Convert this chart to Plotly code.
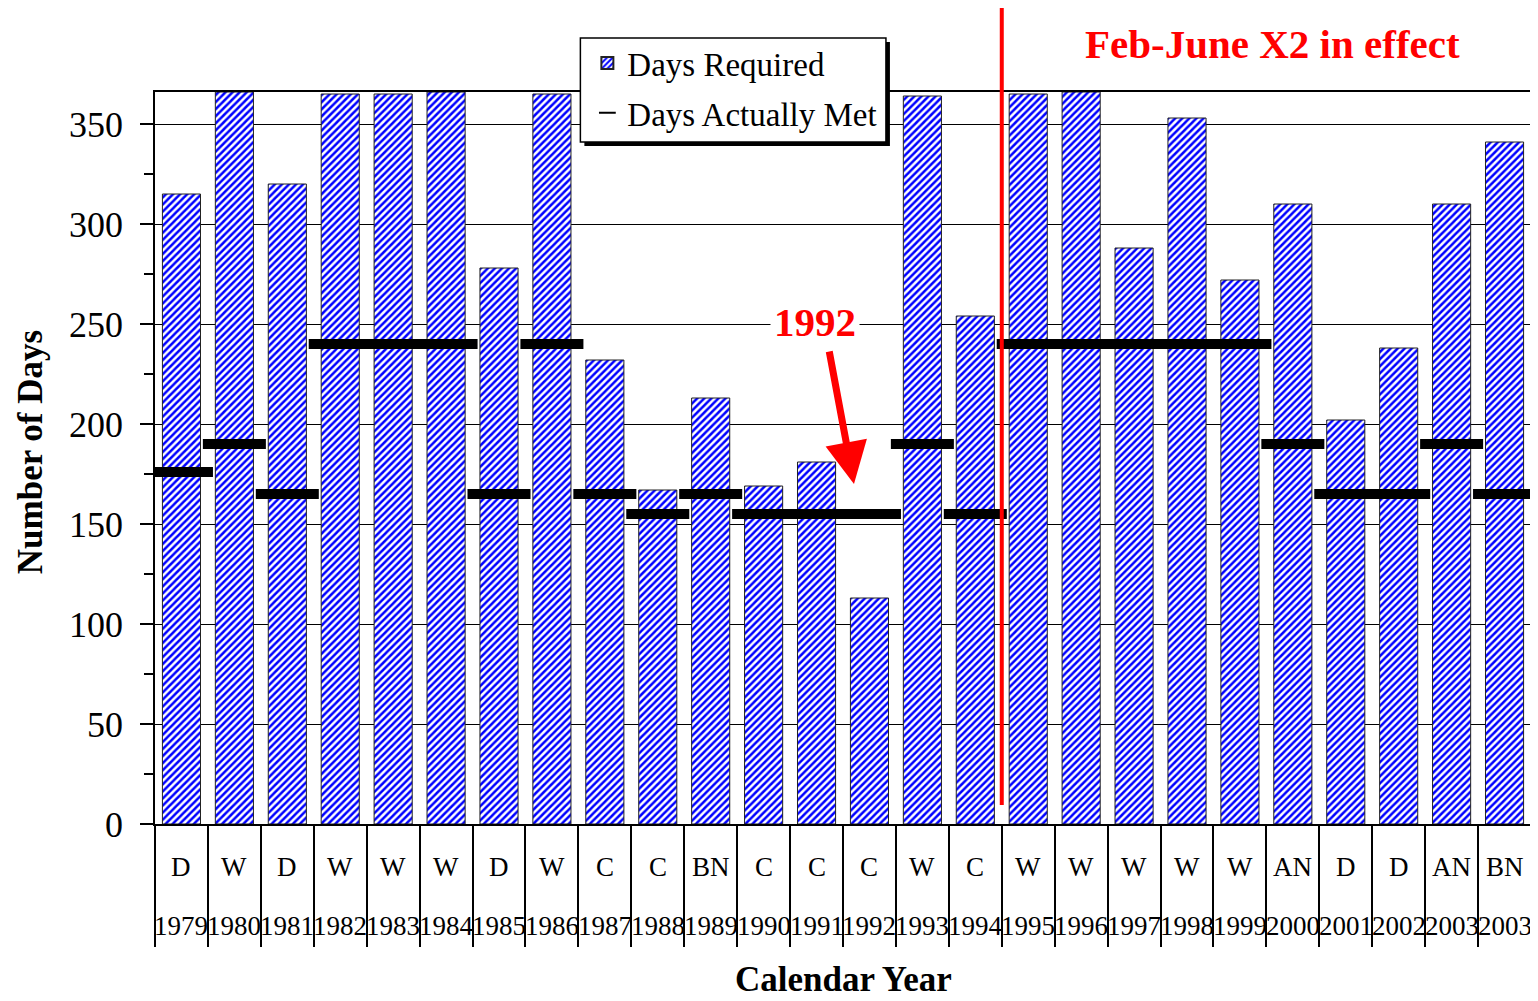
import plotly.graph_objects as go

years = ["1979", "1980", "1981", "1982", "1983", "1984", "1985", "1986", "1987", "1988",
         "1989", "1990", "1991", "1992", "1993", "1994", "1995", "1996", "1997", "1998",
         "1999", "2000", "2001", "2002", "2003", "2003"]
year_types = ["D", "W", "D", "W", "W", "W", "D", "W", "C", "C", "BN", "C", "C", "C", "W", "C",
              "W", "W", "W", "W", "W", "AN", "D", "D", "AN", "BN"]
days_required = [315, 366, 320, 365, 365, 366, 278, 365, 232, 167, 213, 169, 181, 113, 364, 254,
                 365, 366, 288, 353, 272, 310, 202, 238, 310, 341]
days_met = [176, 190, 165, 240, 240, 240, 165, 240, 165, 155, 165, 155, 155, 155, 190, 155,
            240, 240, 240, 240, 240, 190, 165, 165, 190, 165]
y_ticks = [0, 50, 100, 150, 200, 250, 300, 350]

FONT = "Liberation Serif"
idx = list(range(len(years)))
boundaries = [i - 0.5 for i in range(len(years) + 1)]

# reference-page pixel helpers (plot area: x 155..1533, y 92..824)
PW, PH, X0, Y0 = 1378, 732, 155, 824
def px(x): return (x - X0) / PW
def py(y): return (Y0 - y) / PH

fig = go.Figure()
fig.add_trace(go.Bar(
    x=idx, y=days_required, name="Days Required", width=0.72, legendgroup="a",
    marker=dict(color="white", line=dict(color="#222", width=1),
                pattern=dict(shape="/", fgcolor="#0000ff", bgcolor="white", size=5,
                             solidity=0.5, fgopacity=1)),
))
fig.add_trace(go.Scatter(
    x=idx, y=days_met, name="Days Actually Met", mode="markers", legendgroup="b",
    marker=dict(symbol="line-ew", size=45, color="black", line=dict(color="black", width=10)),
))

annotations = []
for i, (t, yr) in enumerate(zip(year_types, years)):
    annotations.append(dict(x=i, y=py(867), xref="x", yref="paper", text=t, showarrow=False,
                            font=dict(family=FONT, size=27, color="black"), yanchor="middle"))
    annotations.append(dict(x=i, y=py(926), xref="x", yref="paper", text=yr, showarrow=False,
                            font=dict(family=FONT, size=27, color="black"), yanchor="middle"))

annotations += [
    dict(x=px(844), y=py(979), xref="paper", yref="paper", text="<b>Calendar Year</b>",
         showarrow=False, xanchor="center", yanchor="middle",
         font=dict(family=FONT, size=35, color="black")),
    dict(x=px(30), y=py(452), xref="paper", yref="paper", text="<b>Number of Days</b>",
         showarrow=False, textangle=-90, font=dict(family=FONT, size=35, color="black"),
         xanchor="center", yanchor="middle"),
    dict(x=px(1274), y=py(44), xref="paper", yref="paper", text="<b>Feb-June X2 in effect</b>",
         showarrow=False, xanchor="center", yanchor="middle",
         font=dict(family=FONT, size=41, color="#ff0000")),
    dict(x=px(816), y=py(322), xref="paper", yref="paper", text="<b>1992</b>",
         showarrow=False, xanchor="center", yanchor="middle", bgcolor="white", borderpad=3,
         font=dict(family=FONT, size=41, color="#ff0000")),
    dict(x=px(855), y=py(484), xref="paper", yref="paper", text="",
         showarrow=True, ax=-25, ay=-134, arrowhead=2, arrowsize=1.2, arrowwidth=7,
         arrowcolor="#ff0000"),
]

shapes = [
    # legend shadow and box
    dict(type="rect", xref="paper", yref="paper", x0=px(585), x1=px(891), y0=py(146), y1=py(42),
         fillcolor="black", line=dict(width=0), layer="above"),
    dict(type="rect", xref="paper", yref="paper", x0=px(581), x1=px(887), y0=py(142), y1=py(38),
         fillcolor="white", line=dict(color="black", width=1.5), layer="above"),
    # red divider
    dict(type="line", xref="x", yref="paper", x0=15.5, x1=15.5, y0=py(805), y1=py(5),
         line=dict(color="#ff0000", width=4), layer="above"),
]

fig.update_layout(
    width=1530, height=993,
    margin=dict(l=147, r=5, t=84, b=177),
    plot_bgcolor="white", paper_bgcolor="white",
    font=dict(family=FONT, size=30, color="black"),
    showlegend=True,
    legend=dict(x=px(588), y=py(35), xanchor="left", yanchor="top",
                bgcolor="rgba(0,0,0,0)", borderwidth=0, traceorder="grouped",
                font=dict(family=FONT, size=33, color="black"), itemsizing="constant",
                tracegroupgap=4),
    annotations=annotations,
    shapes=shapes,
    xaxis=dict(range=[-0.5, len(years) - 0.5], tickmode="array", tickvals=boundaries,
               showticklabels=False, ticks="outside", ticklen=121, tickwidth=1.5, tickcolor="black",
               showline=True, linecolor="black", linewidth=1.5, mirror=True, showgrid=False,
               zeroline=False),
    yaxis=dict(range=[0, 366], tickmode="array", tickvals=y_ticks, ticks="outside", ticklen=13,
               tickwidth=1.5, tickcolor="black", showgrid=True, gridcolor="black", gridwidth=1,
               showline=True, linecolor="black", linewidth=1.5, mirror=True, zeroline=False,
               tickfont=dict(family=FONT, size=36, color="black"), ticklabelstandoff=10,
               minor=dict(tickmode="linear", tick0=25, dtick=50, ticks="outside", ticklen=9,
                          tickwidth=1.5, tickcolor="black", showgrid=False)),
)

fig.write_html("out.html")
